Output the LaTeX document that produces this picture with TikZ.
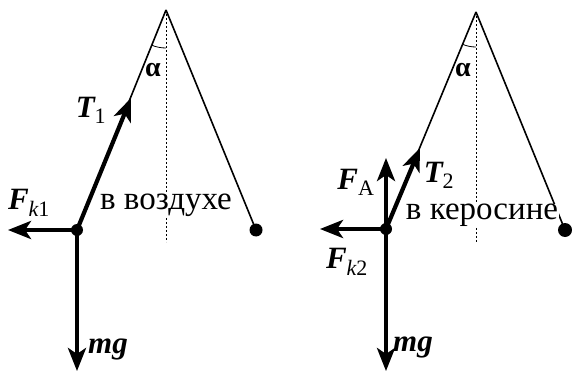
\documentclass[tikz,border=0pt]{standalone}
\usepackage{fontspec}
\setmainfont{Liberation Serif}
\usetikzlibrary{arrows.meta}
\tikzset{
  strng/.style={line width=1.6pt},
  force/.style={line width=4.2pt,-{Stealth[length=23pt,width=18pt,inset=6pt]}},
  vert/.style={line width=1pt,dash pattern=on 2pt off 2pt},
  lbl/.style={font=\fontsize{31}{33}\selectfont\bfseries\itshape,inner sep=0pt},
  txt/.style={font=\fontsize{33}{35}\selectfont,inner sep=0pt},
  greek/.style={font=\fontsize{28}{30}\selectfont\bfseries,inner sep=0pt},
  ball/.style={circle,fill=black,inner sep=0pt,minimum size=#1}
}
\newcommand{\sbs}[1]{\textsubscript{\normalfont\fontsize{22}{22}\selectfont #1}}
\begin{document}
\begin{tikzpicture}[x=1pt,y=-1pt]
\useasboundingbox (0,0) rectangle (572,371);
% ---------- left panel ----------
\coordinate (A1) at (166,10);
\coordinate (V1) at (166,242);
\coordinate (T1e) at (131,98);
\coordinate (F1e) at (8,230);
\coordinate (G1e) at (77,371);
\draw[vert] (A1) -- (V1);
\node[ball=12pt] (B1) at (77,230) {};
\node[ball=13pt] (R1) at (256,230) {};
\draw[strng] (A1) -- (B1.center);
\draw[strng] (A1) -- (R1.center);
\node[txt,fill=white,inner xsep=2pt] (air) at (166,205) {в воздухе};
\draw[line width=0.8pt] (A1) ++(90:38) arc[start angle=90,end angle=112,radius=38];
\draw[force] (B1.center) -- (T1e);
\draw[force] (B1.center) -- (F1e);
\draw[force] (B1.center) -- (G1e);
\node[lbl] (lT1) at (91,110) {T\sbs{1}};
\node[lbl] (lF1) at (29,203) {F\sbs{\itshape k\normalfont 1}};
\node[lbl] (lG1) at (108,349) {mg};
\node[greek] (al1) at (153,70) {α};
% ---------- right panel ----------
\coordinate (A2) at (476,12);
\coordinate (V2) at (476,242);
\coordinate (T2e) at (420,148);
\coordinate (FAe) at (386,158);
\coordinate (F2e) at (320,229);
\coordinate (G2e) at (386,371);
\draw[vert] (A2) -- (V2);
\node[ball=12pt] (B2) at (386,229) {};
\node[ball=14pt] (R2) at (565,230) {};
\draw[strng] (A2) -- (B2.center);
\draw[strng] (A2) -- (R2.center);
\node[txt,fill=white,inner xsep=1pt] (ker) at (482,215) {в керосине};
\draw[line width=0.8pt] (A2) ++(90:35) arc[start angle=90,end angle=112,radius=35];
\draw[force] (B2.center) -- (T2e);
\draw[force] (B2.center) -- (FAe);
\draw[force] (B2.center) -- (F2e);
\draw[force] (B2.center) -- (G2e);
\node[lbl] (lT2) at (439,175) {T\sbs{2}};
\node[lbl] (lFA) at (356,182) {F\sbs{A}};
\node[lbl] (lF2) at (347,262) {F\sbs{\itshape k\normalfont 2}};
\node[lbl] (lG2) at (413,347) {mg};
\node[greek] (al2) at (463,70) {α};
\end{tikzpicture}
\end{document}
